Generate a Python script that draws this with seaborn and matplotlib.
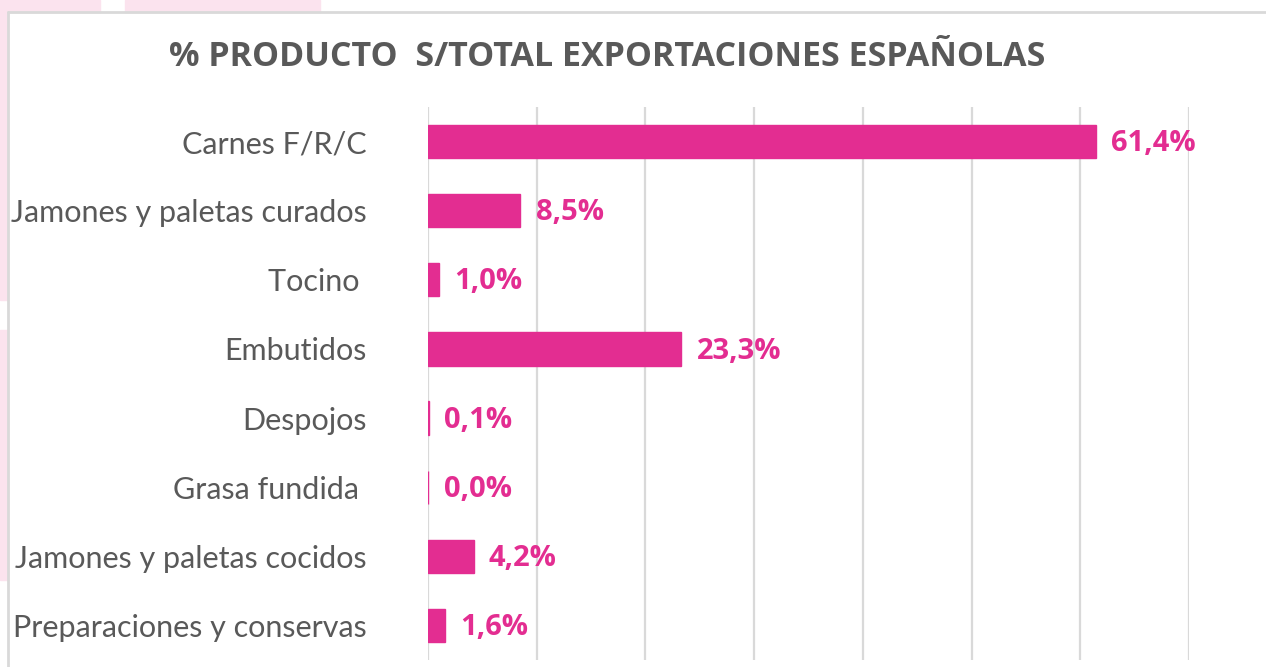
import matplotlib
matplotlib.use("Agg")
import matplotlib.pyplot as plt
import seaborn as sns
import pandas as pd
from matplotlib.patches import Rectangle

categories = ["Carnes F/R/C", "Jamones y paletas curados", "Tocino ", "Embutidos",
              "Despojos", "Grasa fundida ", "Jamones y paletas cocidos",
              "Preparaciones y conservas"]
values = [61.4, 8.5, 1.0, 23.3, 0.1, 0.03, 4.2, 1.6]
value_labels = ["61,4%", "8,5%", "1,0%", "23,3%", "0,1%", "0,0%", "4,2%", "1,6%"]
title = "% PRODUCTO  S/TOTAL EXPORTACIONES ESPAÑOLAS"

sns.set_theme(style="white")
plt.rcParams['font.family'] = ['Lato', 'DejaVu Sans']

df = pd.DataFrame({"cat": categories, "val": values})

W, H = 1266, 667
fig = plt.figure(figsize=(W / 100, H / 100), dpi=100)

# decorative pink background patches and frame
pink = "#FBE3EE"
for (x0, y0, w, h) in [(0, 0, 100, 12), (125, 0, 195, 12), (0, 0, 8, 300), (0, 330, 8, 250)]:
    fig.patches.append(Rectangle((x0 / W, 1 - (y0 + h) / H), w / W, h / H,
                                 transform=fig.transFigure, color=pink, zorder=0))
fig.add_artist(plt.Line2D([8 / W, 1], [1 - 12 / H, 1 - 12 / H], color="#D9D9D9", lw=2,
                          transform=fig.transFigure))
fig.add_artist(plt.Line2D([8 / W, 8 / W], [0, 1 - 12 / H], color="#D9D9D9", lw=2,
                          transform=fig.transFigure))

ax_left, ax_right, ax_top, ax_bottom = 428, 1189, 107, 660
ax = fig.add_axes([ax_left / W, 1 - ax_bottom / H, (ax_right - ax_left) / W, (ax_bottom - ax_top) / H])
ax.set_facecolor("none")

sns.barplot(data=df, y="cat", x="val", orient="h", color="#E32D91", width=0.48,
            saturation=1, ax=ax, zorder=3, edgecolor="#E32D91", linewidth=1.0)

ax.set_xlim(0, 70)
ax.set_ylim(7.5, -0.5)
ax.set_xticks(range(0, 71, 10))
ax.set_xticklabels([])
ax.grid(axis="x", color="#D9D9D9", lw=1.6, zorder=0)
ax.set_axisbelow(True)
for s in ax.spines.values():
    s.set_visible(False)
ax.tick_params(axis="y", length=0, pad=44)
ax.tick_params(axis="x", length=0)
ax.set_xlabel("")
ax.set_ylabel("")
for lab in ax.get_yticklabels():
    lab.set_fontsize(22)
    lab.set_color("#595959")

for i, (v, t) in enumerate(zip(values, value_labels)):
    ax.text(v + 1.4, i + 0.03, t, va="center", ha="left", color="#E32D91", fontsize=21,
            fontweight="bold", family=["Open Sans", "DejaVu Sans"])

fig.text(607 / W, 1 - 57 / H, title, ha="center", va="center", fontsize=24.5,
         fontweight="bold", color="#595959", family=["Open Sans", "DejaVu Sans"])

fig.savefig("out.png", dpi=100)
